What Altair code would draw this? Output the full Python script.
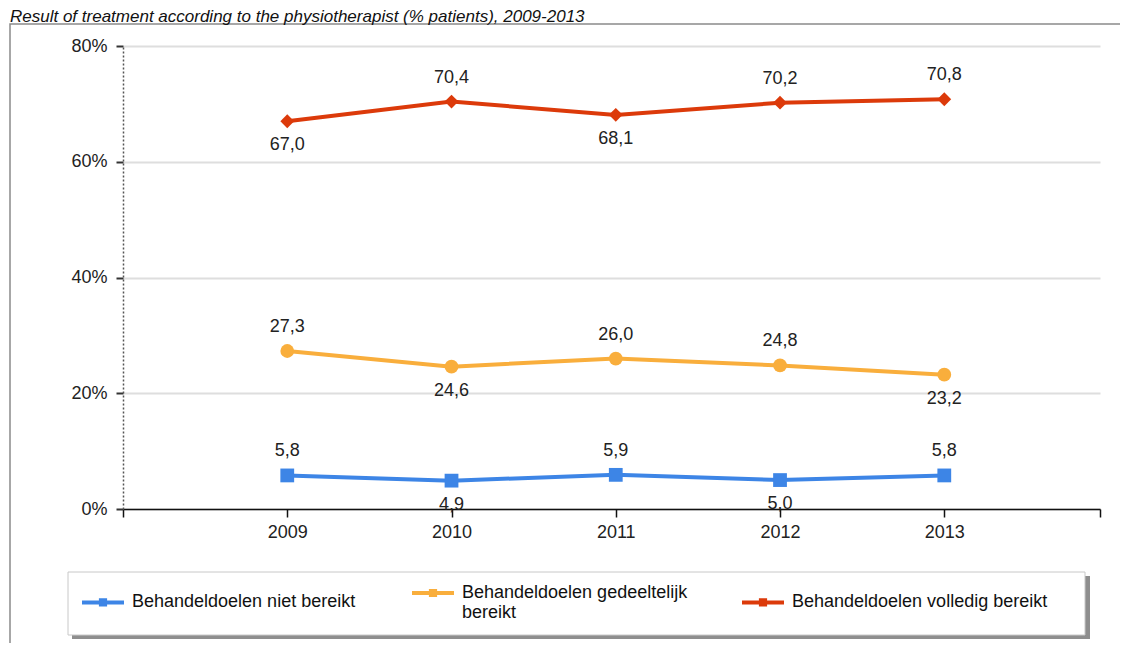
import altair as alt
import pandas as pd

# ---- data ----
years = [2009, 2010, 2011, 2012, 2013]
series = [
    "Behandeldoelen niet bereikt",
    "Behandeldoelen gedeeltelijk bereikt",
    "Behandeldoelen volledig bereikt",
]
niet_bereikt = [5.8, 4.9, 5.9, 5.0, 5.8]
gedeeltelijk_bereikt = [27.3, 24.6, 26.0, 24.8, 23.2]
volledig_bereikt = [67.0, 70.4, 68.1, 70.2, 70.8]
# side of the value label relative to the point (as in the reference)
niet_side = ["above", "below", "above", "below", "above"]
gedeeltelijk_side = ["above", "below", "above", "above", "below"]
volledig_side = ["below", "above", "below", "above", "above"]

y_ticks = [0, 20, 40, 60, 80]
title_text = "Result of treatment according to the physiotherapist (% patients), 2009-2013"

colors = ["#3d85e6", "#f9ae3c", "#dc3a0a"]
shapes = ["square", "circle", "diamond"]

rows = []
for name, vals, sides in zip(
    series,
    [niet_bereikt, gedeeltelijk_bereikt, volledig_bereikt],
    [niet_side, gedeeltelijk_side, volledig_side],
):
    for yr, v, s in zip(years, vals, sides):
        rows.append({"year": yr, "value": v, "series": name, "side": s})
df = pd.DataFrame(rows)

FONT = "Liberation Sans"
W, H = 977, 463

x_scale = alt.Scale(domain=[2008, 2013.948], nice=False, zero=False)
y_scale = alt.Scale(domain=[0, 80], nice=False)
color_scale = alt.Scale(domain=series, range=colors)

x_enc = alt.X(
    "year:Q",
    scale=x_scale,
    title=None,
    axis=alt.Axis(
        values=[2008, 2009, 2010, 2011, 2012, 2013, 2013.948],
        labelExpr="(datum.value >= 2009 && datum.value <= 2013 && datum.value == floor(datum.value)) ? format(datum.value, 'd') : ''",
        labelOverlap=False,
        grid=False,
        domainColor="#111111",
        domainWidth=1.5,
        tickColor="#111111",
        tickWidth=1.5,
        tickSize=8,
        labelFont=FONT,
        labelFontSize=18,
        labelColor="#222222",
        labelPadding=6,
    ),
)
y_enc = alt.Y(
    "value:Q",
    scale=y_scale,
    title=None,
    axis=alt.Axis(
        values=y_ticks,
        labelExpr="datum.value + '%'",
        labelOverlap=False,
        grid=True,
        gridColor="#dedede",
        gridWidth=2,
        domainColor="#555555",
        domainDash=[2, 2],
        domainWidth=1.5,
        tickColor="#333333",
        tickWidth=2,
        tickSize=7,
        labelFont=FONT,
        labelFontSize=18,
        labelColor="#222222",
        labelPadding=9,
    ),
)

one = pd.DataFrame({"k": [0]})

frame = alt.Chart(one).mark_rect(fill=None, stroke="#8a8a8a", strokeWidth=1.5).encode(
    x=alt.value(-113), x2=alt.value(1100), y=alt.value(-22), y2=alt.value(700)
)
legend_shadow = alt.Chart(one).mark_rect(fill="#7a7a7a", opacity=0.85).encode(
    x=alt.value(-51), x2=alt.value(967), y=alt.value(530), y2=alt.value(593)
)
legend_box = alt.Chart(one).mark_rect(fill="white", stroke="#c8c8c8", strokeWidth=1).encode(
    x=alt.value(-55), x2=alt.value(962), y=alt.value(526), y2=alt.value(589)
)

legend_path = "M-1,0H1 M-0.1,-0.1H0.1V0.1H-0.1Z"
lines = alt.Chart(df).mark_line(strokeWidth=4).encode(
    x=x_enc,
    y=y_enc,
    color=alt.Color(
        "series:N",
        scale=color_scale,
        title=None,
        legend=alt.Legend(
            orient="none",
            legendX=-43,
            legendY=524,
            direction="horizontal",
            columns=3,
            gridAlign="all",
            columnPadding=16,
            symbolType=legend_path,
            symbolSize=1764,
            symbolStrokeWidth=4,
            symbolOpacity=1,
            labelOffset=6,
            labelFont=FONT,
            labelFontSize=18,
            labelColor="#111111",
            labelLimit=400,
            labelExpr="datum.label == 'Behandeldoelen gedeeltelijk bereikt' ? ['Behandeldoelen gedeeltelijk', 'bereikt'] : datum.label",
        ),
    ),
)

point_layers = [
    alt.Chart(df)
    .transform_filter(alt.datum.series == name)
    .mark_point(filled=True, size=190, opacity=1, shape=shp, color=col)
    .encode(x="year:Q", y="value:Q")
    for name, shp, col in zip(series, shapes, colors)
]

label_base = alt.Chart(df).transform_calculate(
    txt="replace(format(datum.value, '.1f'), '.', ',')"
)
labels_above = label_base.transform_filter("datum.side == 'above'").mark_text(
    font=FONT, fontSize=18, color="#222222", baseline="middle", dy=-24
).encode(x="year:Q", y="value:Q", text="txt:N")
labels_below = label_base.transform_filter("datum.side == 'below'").mark_text(
    font=FONT, fontSize=18, color="#222222", baseline="middle", dy=24
).encode(x="year:Q", y="value:Q", text="txt:N")

chart = (
    alt.layer(frame, legend_shadow, legend_box, lines, *point_layers, labels_above, labels_below)
    .properties(
        width=W,
        height=H,
        autosize=alt.AutoSizeParams(type="none"),
        padding={"left": 115, "top": 38, "right": 20, "bottom": 134},
        title=alt.TitleParams(
            text=title_text,
            anchor="start",
            frame="group",
            dx=-113,
            offset=-3,
            font=FONT,
            fontSize=17,
            fontStyle="italic",
            fontWeight="normal",
            color="#111111",
        ),
    )
    .configure_view(strokeWidth=0)
)

chart.save("out.html", embed_options={"renderer": "svg", "actions": False})
